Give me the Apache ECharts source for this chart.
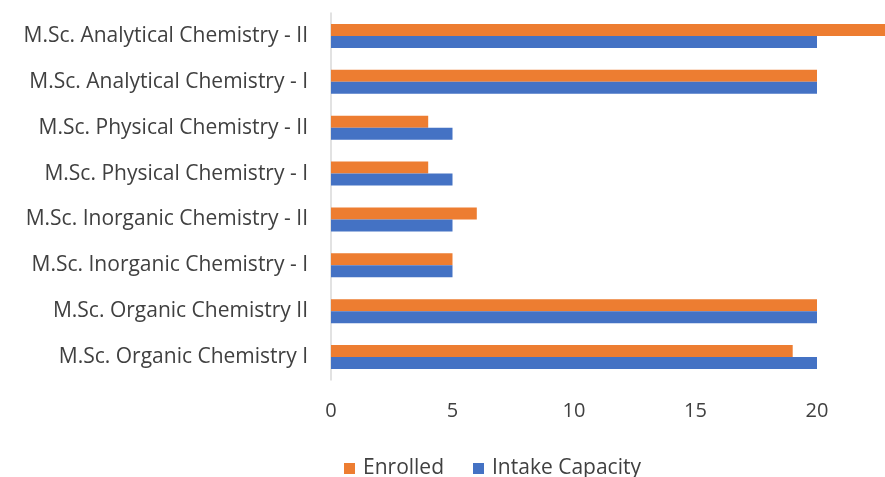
<!DOCTYPE html>
<html>
<head>
<meta charset="utf-8">
<script src="https://cdn.jsdelivr.net/npm/echarts@6/dist/echarts.min.js"></script>
<style>html,body{margin:0;padding:0;background:#fff;overflow:hidden;}#c{width:885px;height:477px;}</style>
</head>
<body>
<div id="c"></div>
<script>
const categories = [
  'M.Sc. Organic Chemistry I',
  'M.Sc. Organic Chemistry II',
  'M.Sc. Inorganic Chemistry - I',
  'M.Sc. Inorganic Chemistry - II',
  'M.Sc. Physical Chemistry - I',
  'M.Sc. Physical Chemistry - II',
  'M.Sc. Analytical Chemistry - I',
  'M.Sc. Analytical Chemistry - II'
];
const intakeCapacity = [20, 20, 5, 5, 5, 5, 20, 20];
const enrolled = [19, 20, 5, 6, 4, 4, 20, 23];
const xTicks = [0, 5, 10, 15, 20, 25];

const font = '"Open Sans", "Noto Sans", sans-serif';
const chart = echarts.init(document.getElementById('c'));
chart.setOption({
  animation: false,
  textStyle: { fontFamily: font },
  grid: { left: 331, top: 13, height: 367, width: 607.5, containLabel: false, outerBoundsMode: 'none' },
  legend: {
    data: ['Enrolled', 'Intake Capacity'],
    left: 339, top: 453,
    itemWidth: 11, itemHeight: 11, itemGap: 29,
    icon: 'rect',
    textStyle: { fontFamily: font, fontSize: 21, color: '#404040', padding: [0, 0, 0, 3] }
  },
  xAxis: {
    type: 'value', min: xTicks[0], max: xTicks[xTicks.length - 1], interval: 5,
    axisLine: { show: false }, axisTick: { show: false },
    splitLine: { show: false },
    axisLabel: { fontFamily: font, fontSize: 20, color: '#404040', margin: 21 }
  },
  yAxis: {
    type: 'category', data: categories,
    axisLine: { show: true, lineStyle: { color: '#D9D9D9', width: 1.5 } },
    axisTick: { show: false },
    axisLabel: { fontFamily: font, fontSize: 21, color: '#404040', margin: 23 }
  },
  series: [
    { name: 'Enrolled', type: 'bar', data: enrolled, barWidth: 12, barGap: '0%', itemStyle: { color: '#ED7D31' } },
    { name: 'Intake Capacity', type: 'bar', data: intakeCapacity, barWidth: 12, barGap: '0%', itemStyle: { color: '#4472C4' } }
  ]
});
</script>
</body>
</html>
